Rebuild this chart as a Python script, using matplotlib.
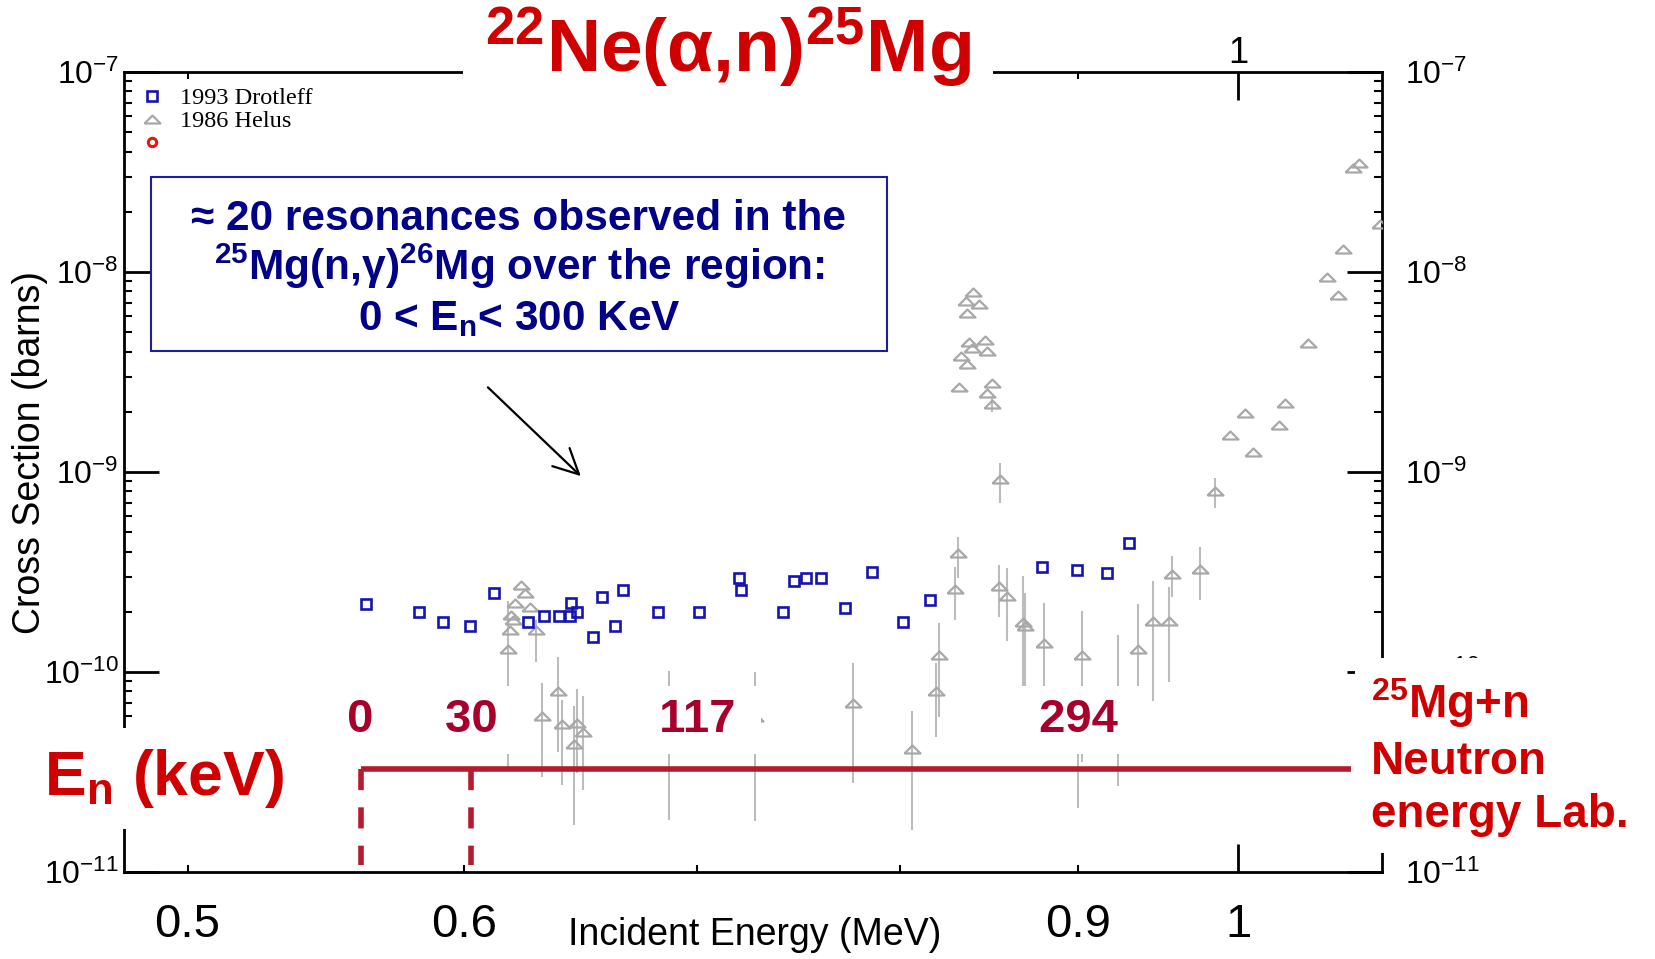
import matplotlib
matplotlib.use("Agg")
import numpy as np
import matplotlib.pyplot as plt
from matplotlib.lines import Line2D
from matplotlib.patches import Rectangle
from matplotlib.ticker import FixedLocator, FixedFormatter, NullFormatter, NullLocator

plt.rcParams['font.family'] = ['Liberation Sans', 'DejaVu Sans']
plt.rcParams['mathtext.fontset'] = 'custom'
plt.rcParams['mathtext.rm'] = 'Liberation Sans'
plt.rcParams['mathtext.default'] = 'regular'

# 1993 Drotleff: alpha energy (MeV), cross section (barns)
drot_e = [0.5625, 0.5826, 0.5917, 0.6025, 0.6120, 0.6260, 0.6325, 0.6390, 0.6436,
          0.6439, 0.6464, 0.6533, 0.6572, 0.6630, 0.6666, 0.6819, 0.7005, 0.7195,
          0.7205, 0.7408, 0.7461, 0.7520, 0.7593, 0.7715, 0.7855, 0.8016, 0.8162,
          0.8789, 0.8990, 0.9170, 0.9308]
drot_xs = [2.19e-10, 1.99e-10, 1.78e-10, 1.70e-10, 2.49e-10, 1.78e-10, 1.90e-10, 1.90e-10, 1.90e-10,
           2.21e-10, 2.00e-10, 1.49e-10, 2.37e-10, 1.70e-10, 2.57e-10, 2.00e-10, 2.00e-10, 2.96e-10,
           2.57e-10, 2.00e-10, 2.86e-10, 2.96e-10, 2.96e-10, 2.09e-10, 3.15e-10, 1.78e-10, 2.29e-10,
           3.34e-10, 3.24e-10, 3.14e-10, 4.40e-10]

# 1986 Helus: energy, cross section, lower / upper end of the error bar
helus_e = [0.6178, 0.6185, 0.6188, 0.6197, 0.6206, 0.6229, 0.6247, 0.6268, 0.6293, 0.6317,
           0.6386, 0.6400, 0.6454, 0.6467, 0.6492, 0.6871, 0.7271, 0.7759, 0.8064, 0.8194,
           0.8209, 0.8297, 0.8312, 0.8321, 0.8329, 0.8358, 0.8362, 0.8362, 0.8376, 0.8389,
           0.8398, 0.8431, 0.8463, 0.8473, 0.8473, 0.8500, 0.8500, 0.8539, 0.8547, 0.8587,
           0.8678, 0.8689, 0.8800, 0.8998, 0.9020, 0.9237, 0.9363, 0.9456, 0.9555, 0.9576,
           0.9752, 0.9850, 0.9947, 1.0046, 1.0101, 1.0276, 1.0315, 1.0475, 1.0603, 1.0684,
           1.0715, 1.0790, 1.0833, 1.0982]
helus_xs = [1.30e-10, 1.62e-10, 1.93e-10, 1.82e-10, 2.21e-10, 2.72e-10, 2.47e-10, 2.12e-10, 1.62e-10, 6.05e-11,
            8.04e-11, 5.50e-11, 4.35e-11, 5.54e-11, 5.03e-11, 6.10e-11, 5.96e-11, 6.97e-11, 4.14e-11, 8.04e-11,
            1.22e-10, 2.59e-10, 3.92e-10, 2.67e-9, 3.80e-9, 7.19e-9, 6.26e-9, 3.47e-9, 4.48e-9, 4.15e-9,
            7.97e-9, 6.92e-9, 4.57e-9, 4.03e-9, 2.49e-9, 2.78e-9, 2.19e-9, 2.70e-10, 9.19e-10, 2.41e-10,
            1.78e-10, 1.70e-10, 1.39e-10, 4.84e-11, 1.21e-10, 6.31e-11, 1.31e-10, 1.80e-10, 1.80e-10, 3.08e-10,
            3.26e-10, 8.08e-10, 1.53e-9, 1.97e-9, 1.26e-9, 1.72e-9, 2.21e-9, 4.40e-9, 9.41e-9, 7.67e-9,
            1.30e-8, 3.30e-8, 3.50e-8, 1.73e-8]
helus_lo = [3.35e-11, 1.62e-10, 1.93e-10, 1.82e-10, 2.21e-10, 2.72e-10, 2.47e-10, 2.12e-10, 1.12e-10, 3.00e-11,
            3.99e-11, 2.72e-11, 1.72e-11, 3.13e-11, 2.57e-11, 1.82e-11, 1.80e-11, 2.79e-11, 1.63e-11, 4.75e-11,
            5.98e-11, 1.82e-10, 2.95e-10, 2.67e-9, 3.80e-9, 7.19e-9, 6.26e-9, 3.47e-9, 4.48e-9, 4.15e-9,
            7.97e-9, 6.92e-9, 4.57e-9, 4.03e-9, 2.49e-9, 2.78e-9, 2.00e-9, 1.88e-10, 6.97e-10, 1.43e-10,
            7.24e-11, 7.24e-11, 7.24e-11, 2.09e-11, 3.55e-11, 2.69e-11, 3.94e-11, 7.16e-11, 8.88e-11, 2.38e-10,
            2.29e-10, 6.58e-10, 1.53e-9, 1.97e-9, 1.26e-9, 1.72e-9, 2.21e-9, 4.40e-9, 9.41e-9, 7.67e-9,
            1.30e-8, 3.30e-8, 3.50e-8, 1.73e-8]
helus_hi = [2.26e-10, 1.62e-10, 1.93e-10, 1.82e-10, 2.21e-10, 2.72e-10, 2.47e-10, 2.12e-10, 1.82e-10, 8.84e-11,
            1.19e-10, 7.24e-11, 6.76e-11, 8.19e-11, 7.59e-11, 1.01e-10, 1.00e-10, 1.11e-10, 6.42e-11, 1.11e-10,
            1.76e-10, 3.34e-10, 4.75e-10, 2.67e-9, 3.80e-9, 7.19e-9, 6.26e-9, 3.47e-9, 4.48e-9, 4.15e-9,
            7.97e-9, 6.92e-9, 4.57e-9, 4.03e-9, 2.49e-9, 2.78e-9, 2.40e-9, 3.43e-10, 1.11e-9, 3.33e-10,
            3.02e-10, 2.49e-10, 2.22e-10, 7.24e-11, 2.02e-10, 1.53e-10, 2.18e-10, 2.85e-10, 2.67e-10, 3.80e-10,
            4.23e-10, 9.30e-10, 1.53e-9, 1.97e-9, 1.26e-9, 1.72e-9, 2.21e-9, 4.40e-9, 9.41e-9, 7.67e-9,
            1.30e-8, 3.30e-8, 3.50e-8, 1.73e-8]

# neutron energy scale (keV) and matching alpha energy (MeV)
en_kev = ['0', '30', '117', '294']
en_alpha = [0.5605, 0.603, 0.700, 0.900]
en_line_end = 1.0775

x_major = [1.0]
x_minor = [0.5, 0.6, 0.7, 0.8, 0.9]
x_minor_labels = ['0.5', '0.6', '', '', '0.9']

blue = '#1414b0'
grey = '#a8a8a8'
bar_grey = '#bcbcbc'
red = '#d00000'
dark_red = '#a6002b'
line_red = '#b51a2e'
navy = '#000088'

fig = plt.figure(figsize=(16.56, 9.59), dpi=100)
ax = fig.add_axes([0.07512, 0.0907, 0.7597, 0.8342])
ax.set_xscale('log')
ax.set_yscale('log')
ax.set_xlim(0.4796, 1.100)
ax.set_ylim(1e-11, 1e-7)

# flat open triangle used by the Helus set
tri = [(-1, -0.5), (1, -0.5), (0, 0.5), (-1, -0.5)]

xs = np.array(helus_xs)
yerr = [xs - np.array(helus_lo), np.array(helus_hi) - xs]
ax.errorbar(helus_e, helus_xs, yerr=yerr, fmt='none', ecolor=bar_grey,
            elinewidth=1.5, capsize=0, zorder=2)
ax.plot(helus_e, helus_xs, ls='none', marker=tri, ms=11.5, mfc='none',
        mec=grey, mew=1.6, zorder=3)
ax.plot(drot_e, drot_xs, ls='none', marker='s', ms=7.3, mfc='none',
        mec=blue, mew=1.9, zorder=4)

for s in ax.spines.values():
    s.set_linewidth(2)

ax.xaxis.set_major_locator(FixedLocator(x_major))
ax.xaxis.set_major_formatter(FixedFormatter(['1']))
ax.xaxis.set_minor_locator(FixedLocator(x_minor))
ax.xaxis.set_minor_formatter(FixedFormatter(x_minor_labels))
ax.tick_params(axis='x', which='major', direction='in', length=20, width=2,
               top=True, bottom=True, labelsize=34, pad=22)
ax.tick_params(axis='x', which='minor', direction='in', length=5, width=1.5,
               top=True, bottom=True, labelsize=34, pad=22)
ax.tick_params(axis='y', which='major', direction='in', length=25, width=2,
               left=True, right=True, labelsize=23, pad=4)
ax.tick_params(axis='y', which='minor', direction='in', length=6, width=1.5,
               left=True, right=True)
ax.yaxis.set_minor_formatter(NullFormatter())

top = ax.secondary_xaxis('top')
top.xaxis.set_major_locator(FixedLocator(x_major))
top.xaxis.set_major_formatter(FixedFormatter(['1']))
top.xaxis.set_minor_locator(NullLocator())
top.tick_params(length=0, labelsize=26, pad=1)
top.spines['top'].set_visible(False)

right = ax.secondary_yaxis('right')
right.tick_params(which='both', length=0, labelsize=23, pad=16)
right.yaxis.set_minor_formatter(NullFormatter())
right.spines['right'].set_visible(False)

ax.set_xlabel('Incident Energy (MeV)', fontsize=27, va='center')
ax.xaxis.set_label_coords(0.501, -0.079)
ax.set_ylabel('Cross Section (barns)', fontsize=27, va='center')
ax.yaxis.set_label_coords(-0.075, 0.524)

handles = [
    Line2D([], [], ls='none', marker='s', ms=7.3, mfc='none', mec=blue, mew=1.9),
    Line2D([], [], ls='none', marker=tri, ms=11.5, mfc='none', mec=grey, mew=1.6),
    Line2D([], [], ls='none', marker='o', ms=6, mfc='none', mec='#e8160c', mew=2.2),
]
ax.legend(handles, ['1993 Drotleff', '1986 Helus', ''], loc='upper left',
          bbox_to_anchor=(0.012, 0.981), frameon=False,
          prop={'family': 'Liberation Serif', 'size': 17.5},
          handlelength=1.0, handletextpad=0.65, labelspacing=0.05,
          borderpad=0, borderaxespad=0)

# neutron energy scale drawn along the bottom of the frame
xt = ax.get_xaxis_transform()
ax.plot([en_alpha[0], en_line_end], [0.129, 0.129], transform=xt, color=line_red,
        lw=4, solid_capstyle='butt', clip_on=False, zorder=5)
for xv in en_alpha[:2]:
    ax.plot([xv, xv], [0.129, 0.009], transform=xt, color=line_red, lw=4,
            ls=(0, (3.8, 3.1)), clip_on=False, zorder=5)
for lab, xv in zip(en_kev, en_alpha):
    ax.text(xv, 0.19, ' ' + lab + ' ', transform=xt, ha='center', va='center',
            fontsize=34, fontweight='bold', color=dark_red, zorder=6,
            bbox=dict(boxstyle='square,pad=0.25', fc='white', ec='none'))

ax.annotate('', xy=(0.6490, 9.33e-10), xytext=(0.6088, 2.71e-9),
            arrowprops=dict(arrowstyle='->,head_length=0.6,head_width=0.3',
                            color='black', lw=1.6, mutation_scale=30))

# reaction title over the top frame
fig.text(0.4396, 0.925, r'$^{22}$Ne(α,n)$^{25}$Mg', ha='center', va='baseline',
         fontsize=54, fontweight='bold', color=red,
         bbox=dict(boxstyle='square,pad=0.3', fc='white', ec='none'))

# resonance note
fig.add_artist(Rectangle((0.0912, 0.634), 0.4444, 0.1814, transform=fig.transFigure,
                         fc='white', ec='#1c1ca8', lw=1.5, zorder=3))
note = ['≈ 20 resonances observed in the',
        r'$^{25}$Mg(n,γ)$^{26}$Mg over the region:',
        r'0 < E$_{n}$< 300 KeV']
for line, yb in zip(note, [0.7602, 0.7080, 0.6560]):
    fig.text(0.3134, yb, line, ha='center', va='baseline', fontsize=30.5,
             fontweight='bold', color=navy, zorder=4)

fig.text(0.0266, 0.171, r'E$_{n}$ (keV)', ha='left', va='baseline', fontsize=45,
         fontweight='bold', color=red,
         bbox=dict(boxstyle='square,pad=0.3', fc='white', ec='none'))

fig.text(0.828, 0.295, '$^{25}$Mg+n\nNeutron\nenergy Lab.', ha='left', va='top',
         fontsize=33, fontweight='bold', color=red, linespacing=1.28,
         bbox=dict(boxstyle='square,pad=0.35', fc='white', ec='none'))

fig.savefig('out.png', dpi=100, facecolor='white')
